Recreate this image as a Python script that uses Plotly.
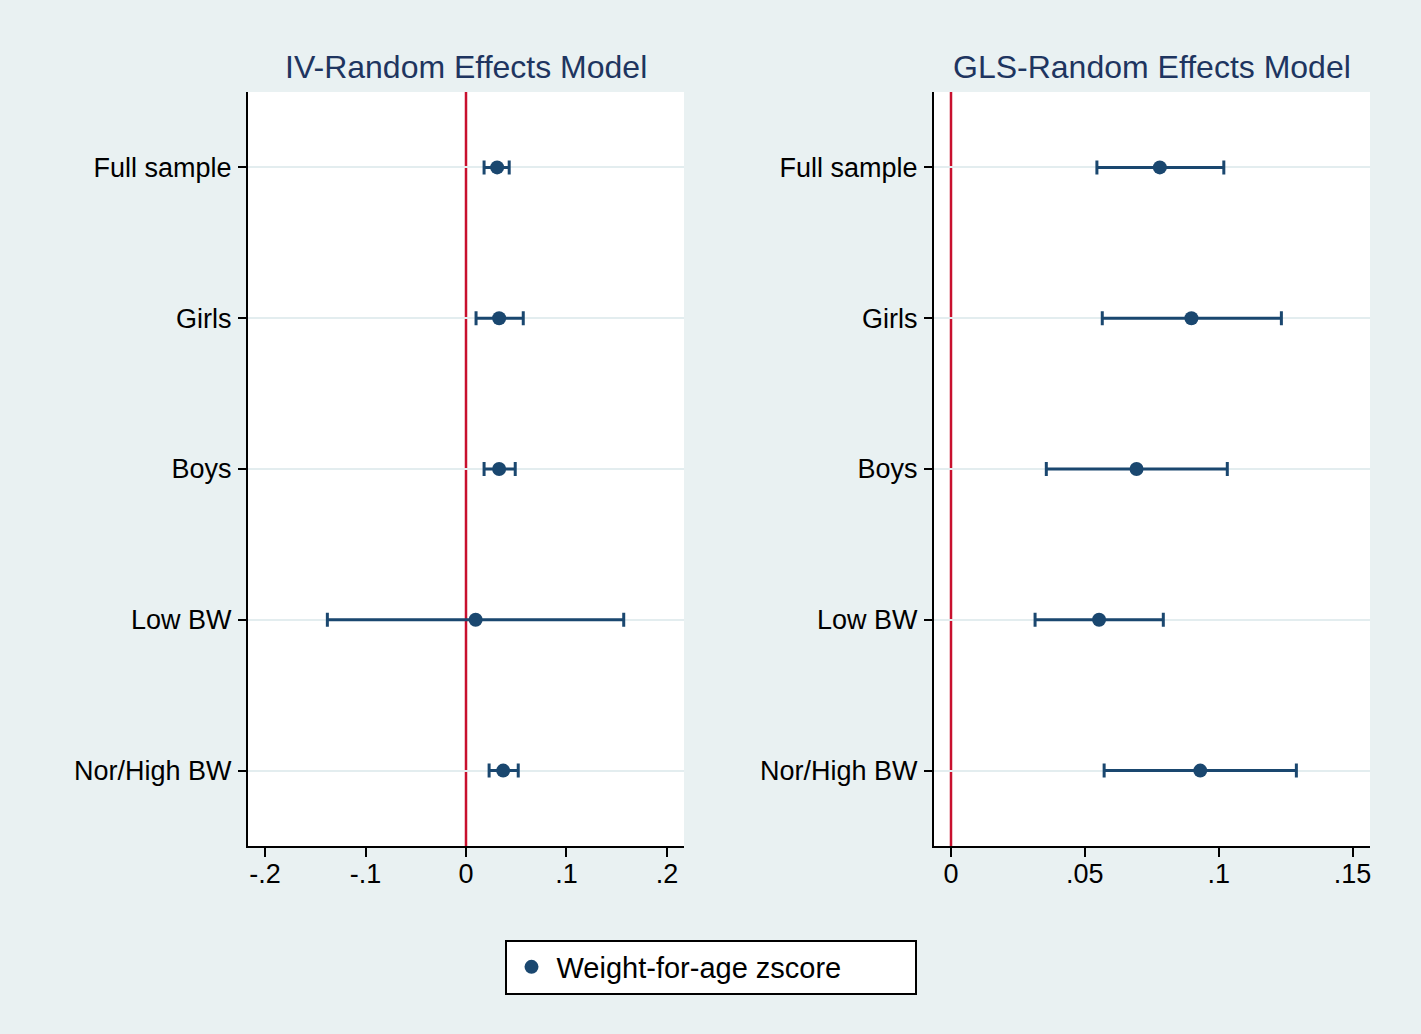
import plotly.graph_objects as go

categories = ["Full sample", "Girls", "Boys", "Low BW", "Nor/High BW"]

# IV-Random Effects Model
iv_est = [0.031, 0.033, 0.033, 0.0096, 0.037]
iv_lo = [0.018, 0.010, 0.018, -0.138, 0.023]
iv_hi = [0.043, 0.057, 0.049, 0.157, 0.052]

# GLS-Random Effects Model
gls_est = [0.078, 0.0898, 0.0693, 0.0553, 0.0931]
gls_lo = [0.0545, 0.0565, 0.0356, 0.0314, 0.0572]
gls_hi = [0.1019, 0.1234, 0.1032, 0.0793, 0.129]

iv_ticks = [-0.2, -0.1, 0, 0.1, 0.2]
iv_ticktext = ["-.2", "-.1", "0", ".1", ".2"]
gls_ticks = [0, 0.05, 0.1, 0.15]
gls_ticktext = ["0", ".05", ".1", ".15"]

titles = ["IV-Random Effects Model", "GLS-Random Effects Model"]
legend_name = "Weight-for-age zscore"

NAVY = "#1a476f"
RED = "#c8102e"
BG = "#E9F1F2"
FONT = "Liberation Sans, Arial, sans-serif"

fig = go.Figure()

def add_panel(est, lo, hi, xa, ya, showlegend):
    fig.add_trace(go.Scatter(
        x=est, y=categories, xaxis=xa, yaxis=ya, mode="markers",
        marker=dict(color=NAVY, size=14),
        error_x=dict(type="data", symmetric=False,
                     array=[h - e for h, e in zip(hi, est)],
                     arrayminus=[e - l for e, l in zip(est, lo)],
                     color=NAVY, thickness=3, width=7),
        name=legend_name, showlegend=showlegend,
    ))

add_panel(iv_est, iv_lo, iv_hi, "x", "y", True)
add_panel(gls_est, gls_lo, gls_hi, "x2", "y2", False)

W, H = 1421, 1034
x1d = [248 / W, 684 / W]
x2d = [934 / W, 1370 / W]
yd = [1 - 846 / H, 1 - 92 / H]

common_x = dict(showgrid=False, zeroline=False, showline=True, linecolor="black",
                linewidth=2, ticks="outside", ticklen=9, tickwidth=2, tickcolor="black",
                tickfont=dict(size=27, color="black", family=FONT), ticklabelstandoff=-6)
common_y = dict(type="category", categoryorder="array", categoryarray=categories,
                range=[4.5, -0.5], showgrid=True, gridcolor="#E3EDEF", gridwidth=2,
                zeroline=False, showline=True, linecolor="black", linewidth=2,
                ticks="outside", ticklen=8, tickwidth=2, tickcolor="black",
                tickfont=dict(size=27, color="black", family=FONT), ticklabelstandoff=1)

fig.update_layout(
    width=W, height=H,
    margin=dict(l=0, r=0, t=0, b=0),
    paper_bgcolor=BG, plot_bgcolor="white",
    font=dict(family=FONT),
    xaxis=dict(domain=x1d, range=[-0.217, 0.217], tickvals=iv_ticks, ticktext=iv_ticktext, **common_x),
    xaxis2=dict(domain=x2d, range=[-0.00635, 0.1565], tickvals=gls_ticks, ticktext=gls_ticktext,
                anchor="y2", **common_x),
    yaxis=dict(domain=yd, anchor="x", **common_y),
    yaxis2=dict(domain=yd, anchor="x2", **common_y),
    legend=dict(x=(505 + 916) / 2 / W, xanchor="center", y=1 - 967 / H, yanchor="middle",
                bgcolor="white", bordercolor="black", borderwidth=2,
                orientation="h", entrywidth=353, itemwidth=40,
                font=dict(size=29, color="black", family=FONT)),
    shapes=[
        dict(type="line", xref="x", yref="y domain", x0=0, x1=0, y0=0, y1=1,
             line=dict(color=RED, width=2.5), layer="below"),
        dict(type="line", xref="x2", yref="y2 domain", x0=0, x1=0, y0=0, y1=1,
             line=dict(color=RED, width=2.5), layer="below"),
    ],
    annotations=[
        dict(text=titles[0], xref="paper", yref="paper", x=(x1d[0] + x1d[1]) / 2,
             y=1 - 67 / H, xanchor="center", yanchor="middle", showarrow=False,
             font=dict(size=32, color="#1e3560", family=FONT)),
        dict(text=titles[1], xref="paper", yref="paper", x=(x2d[0] + x2d[1]) / 2,
             y=1 - 67 / H, xanchor="center", yanchor="middle", showarrow=False,
             font=dict(size=32, color="#1e3560", family=FONT)),
    ],
)

fig.write_html("out.html", config={"displayModeBar": False},
               post_script="document.body.style.margin='0';")
